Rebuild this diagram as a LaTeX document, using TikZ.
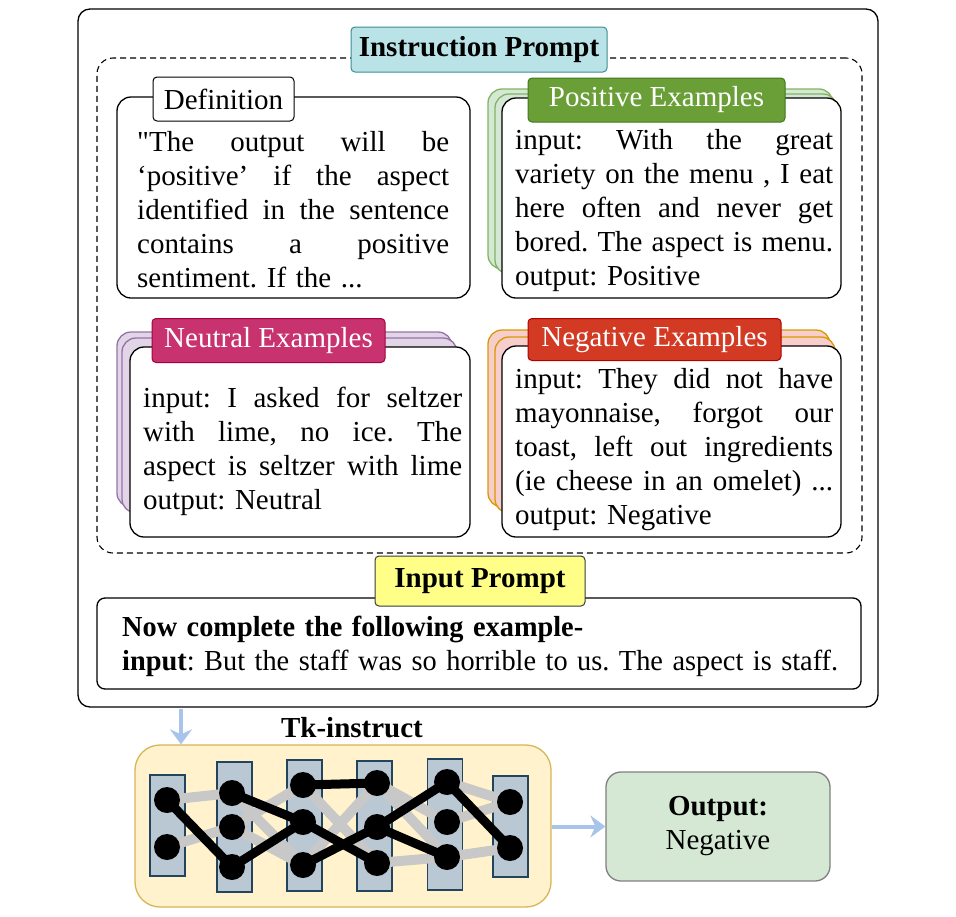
\documentclass[tikz,border=0pt]{standalone}
\usepackage{fontspec}
\setmainfont{Liberation Serif}[Ligatures=TeXOff]
\usetikzlibrary{arrows.meta}
\definecolor{tealfill}{HTML}{B9E3E6}
\definecolor{tealdraw}{HTML}{3F8C92}
\definecolor{yelfill}{HTML}{FFFF88}
\definecolor{yeldraw}{HTML}{36393D}
\definecolor{posfill}{HTML}{6A9F38}
\definecolor{posdraw}{HTML}{3F7A1C}
\definecolor{neufill}{HTML}{C8336F}
\definecolor{neudraw}{HTML}{A50040}
\definecolor{negfill}{HTML}{D23A24}
\definecolor{negdraw}{HTML}{B20000}
\definecolor{posstfill}{HTML}{D5E8D4}
\definecolor{posstdraw}{HTML}{82B366}
\definecolor{neustfill}{HTML}{E1D5E7}
\definecolor{neustdraw}{HTML}{9673A6}
\definecolor{negstfill}{HTML}{F8CECC}
\definecolor{negstdraw}{HTML}{D79B00}
\definecolor{tkfill}{HTML}{FFF2CC}
\definecolor{tkdraw}{HTML}{D6B656}
\definecolor{colfill}{HTML}{BAC8D3}
\definecolor{coldraw}{HTML}{23445D}
\definecolor{outfill}{HTML}{D5E8D4}
\definecolor{outdraw}{HTML}{808080}
\definecolor{arrblue}{HTML}{A9C4EB}
\definecolor{edgegray}{HTML}{C8C8C8}
\newcommand{\jl}[1]{\leavevmode\hbox to\linewidth{\spaceskip=.25em plus 1fil\relax#1}}
\frenchspacing
\pgfdeclarelayer{bg}
\pgfdeclarelayer{edgelayer}
\pgfsetlayers{bg,edgelayer,main}
\begin{document}
\begin{tikzpicture}[x=1pt,y=-1pt,
  every node/.style={font=\fontsize{29}{34}\selectfont},
  box/.style={draw=black, line width=1.3pt, fill=white, rounded corners=14pt, inner sep=0pt},
  stackbox/.style={line width=1.3pt, rounded corners=14pt, inner sep=0pt},
  lbl/.style={line width=1pt, rounded corners=4pt, inner sep=0pt},
  bodytext/.style={inner sep=0pt, align=left},
  column/.style={draw=coldraw, fill=colfill, line width=1.2pt, inner sep=0pt, minimum width=35pt},
  neuron/.style={circle, fill=black, inner sep=0pt, minimum size=26pt},
  grayedge/.style={draw=edgegray, line width=10pt},
  blackedge/.style={draw=black, line width=9pt},
  bluearrow/.style={draw=arrblue, line width=4pt, -{Stealth[length=15pt,width=22pt,inset=5pt]}}
]
\useasboundingbox (0,0) rectangle (956,916);

% outer frame and dashed frame
\node[draw=black, line width=1.3pt, rounded corners=12pt, minimum width=800pt, minimum height=698pt, inner sep=0pt] (outer) at (478,358) {};
\node[draw=black, line width=1.1pt, dash pattern=on 6pt off 4pt, rounded corners=16pt, minimum width=765pt, minimum height=495pt, inner sep=0pt] (dashbox) at (479.5,305.5) {};
\node[lbl, draw=tealdraw, fill=tealfill, minimum width=256pt, minimum height=45pt, font=\fontsize{29}{34}\selectfont\bfseries] (instlbl) at (479,49.5) {Instruction Prompt};

% Definition
\node[box, minimum width=353pt, minimum height=201pt] (defbox) at (293.5,197.5) {};
\node[lbl, draw=black, fill=white, minimum width=141pt, minimum height=44pt] (deflbl) at (223.5,99) {Definition};
\node[bodytext, text width=312pt, anchor=base west] (deftext) at (137,151) {\jl{"The output will be}\\\jl{‘positive’ if the aspect}\\\jl{identified in the sentence}\\\jl{contains a positive}\\sentiment. If the ...};

% Positive
\node[stackbox, draw=posstdraw, fill=posstfill, minimum width=345pt, minimum height=180pt] (posst2) at (660.5,179) {};
\node[stackbox, draw=posstdraw, fill=posstfill, minimum width=342pt, minimum height=180pt] (posst1) at (666,184) {};
\node[box, minimum width=339pt, minimum height=200pt] (posbox) at (671.5,198) {};
\node[lbl, draw=posdraw, fill=posfill, text=white, minimum width=257pt, minimum height=44pt] (poslbl) at (656.5,100) {Positive Examples};
\node[bodytext, text width=318pt, anchor=base west] (postext) at (515,149) {\jl{input: With the great}\\\jl{variety on the menu , I eat}\\\jl{here often and never get}\\\jl{bored. The aspect is menu.}\\output: Positive};

% Neutral
\node[stackbox, draw=neustdraw, fill=neustfill, minimum width=335pt, minimum height=175pt] (neust2) at (284.5,419.5) {};
\node[stackbox, draw=neustdraw, fill=neustfill, minimum width=335pt, minimum height=175pt] (neust1) at (289.5,425.5) {};
\node[box, minimum width=340pt, minimum height=190pt] (neubox) at (300,442) {};
\node[lbl, draw=neudraw, fill=neufill, text=white, minimum width=233pt, minimum height=44pt] (neulbl) at (268.5,340.5) {Neutral Examples};
\node[bodytext, text width=319pt, anchor=base west] (neutext) at (143,407) {\jl{input: I asked for seltzer}\\\jl{with lime, no ice. The}\\\jl{aspect is seltzer with lime}\\output: Neutral};

% Negative
\node[stackbox, draw=negstdraw, fill=negstfill, minimum width=342pt, minimum height=177pt] (negst2) at (659,418.5) {};
\node[stackbox, draw=negstdraw, fill=negstfill, minimum width=340pt, minimum height=176pt] (negst1) at (665,425) {};
\node[box, minimum width=339pt, minimum height=191pt] (negbox) at (671.5,441.5) {};
\node[lbl, draw=negdraw, fill=negfill, text=white, minimum width=253pt, minimum height=42pt] (neglbl) at (654.5,339.5) {Negative Examples};
\node[bodytext, text width=318pt, anchor=base west] (negtext) at (515,388) {\jl{input: They did not have}\\\jl{mayonnaise, forgot our}\\\jl{toast, left out ingredients}\\\jl{(ie cheese in an omelet) ...}\\output: Negative};

% Input prompt
\node[draw=black, line width=1.3pt, fill=white, rounded corners=8pt, minimum width=764pt, minimum height=91pt, inner sep=0pt] (inbox) at (479,643.5) {};
\node[lbl, draw=yeldraw, fill=yelfill, minimum width=210pt, minimum height=50pt, font=\fontsize{29}{34}\selectfont\bfseries] (inlbl) at (480,581) {Input Prompt};
\node[bodytext, text width=740pt, anchor=base west] (intext) at (122,636) {\resizebox{461pt}{\height}{\textbf{Now complete the following example-}}\\\resizebox{716pt}{\height}{\textbf{input}: But the staff was so horrible to us. The aspect is staff.}};

% Tk-instruct model
\begin{pgfonlayer}{bg}
\node[draw=tkdraw, fill=tkfill, line width=1.3pt, rounded corners=25pt, minimum width=416pt, minimum height=162pt, inner sep=0pt] (tkbox) at (343,826) {};
\node[column, minimum height=101pt] (col1) at (167.5,825.5) {};
\node[column, minimum height=130pt] (col2) at (234.5,827) {};
\node[column, minimum height=131pt] (col3) at (304.5,825.5) {};
\node[column, minimum height=130pt] (col4) at (374.5,826) {};
\node[column, minimum height=131pt] (col5) at (445,824.5) {};
\node[column, minimum height=101pt] (col6) at (510.5,826.5) {};
\end{pgfonlayer}
\node[font=\fontsize{29}{34}\selectfont\bfseries, inner sep=0pt] (tklbl) at (352,728) {Tk-instruct};

\node[neuron] (c1a) at (167,800) {};
\node[neuron] (c1b) at (167,847) {};
\node[neuron] (c2a) at (232,793) {};
\node[neuron] (c2b) at (232,827) {};
\node[neuron] (c2c) at (232,867) {};
\node[neuron] (c3a) at (303,785) {};
\node[neuron] (c3b) at (303,822) {};
\node[neuron] (c3c) at (303,865) {};
\node[neuron] (c4a) at (377,783) {};
\node[neuron] (c4b) at (377,827) {};
\node[neuron] (c4c) at (377,863) {};
\node[neuron] (c5a) at (447,782) {};
\node[neuron] (c5b) at (447,822) {};
\node[neuron] (c5c) at (447,857) {};
\node[neuron] (c6a) at (510,802) {};
\node[neuron] (c6b) at (510,848) {};

\begin{pgfonlayer}{edgelayer}
\draw[grayedge] (c1a.center) -- (c2a.center);
\draw[grayedge] (c1b.center) -- (c2b.center);
\draw[grayedge] (c2a.center) -- (c3c.center);
\draw[grayedge] (c2b.center) -- (c3a.center);
\draw[grayedge] (c2b.center) -- (c3c.center);
\draw[grayedge] (c3a.center) -- (c4c.center);
\draw[grayedge] (c3c.center) -- (c4a.center);
\draw[grayedge] (c4a.center) -- (c5b.center);
\draw[grayedge] (c4a.center) -- (c5c.center);
\draw[grayedge] (c4c.center) -- (c5c.center);
\draw[grayedge] (c5a.center) -- (c6a.center);
\draw[grayedge] (c5b.center) -- (c6a.center);
\draw[grayedge] (c5c.center) -- (c6b.center);
\draw[blackedge] (c1a.center) -- (c2c.center);
\draw[blackedge] (c2a.center) -- (c3b.center);
\draw[blackedge] (c3b.center) -- (c4c.center);
\draw[blackedge] (c2c.center) -- (c3b.center);
\draw[blackedge] (c3a.center) -- (c4a.center);
\draw[blackedge] (c3c.center) -- (c4b.center);
\draw[blackedge] (c4b.center) -- (c5a.center);
\draw[blackedge] (c4b.center) -- (c5c.center);
\draw[blackedge] (c5a.center) -- (c6b.center);
\end{pgfonlayer}

% Output
\node[draw=outdraw, fill=outfill, line width=1.3pt, rounded corners=15pt, minimum width=224pt, minimum height=109pt, inner sep=0pt, align=center] (outbox) at (718,826.5) {\textbf{Output:}\\Negative};

% arrows
\coordinate (arrtop) at (181,709);
\draw[bluearrow] (arrtop) -- (tkbox.north -| arrtop);
\draw[bluearrow] (tkbox.east |- outbox.west) -- (outbox.west);
\end{tikzpicture}
\end{document}
